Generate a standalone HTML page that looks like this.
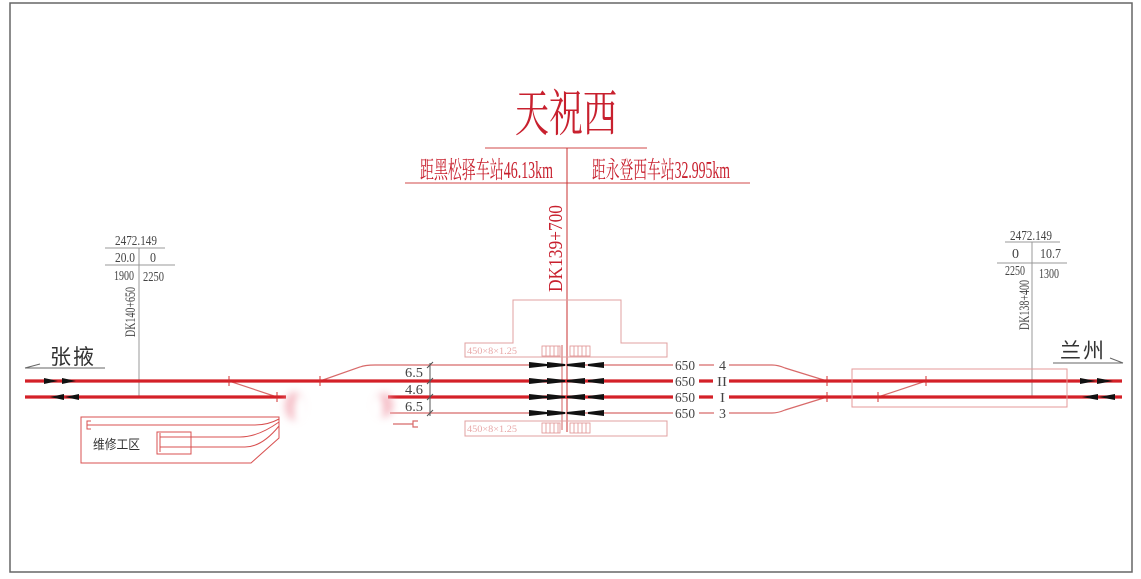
<!DOCTYPE html>
<html><head><meta charset="utf-8"><style>
html,body{margin:0;padding:0;background:#fff;}
svg{display:block;}
text{font-family:"Liberation Serif","Noto Serif CJK SC",serif;}
.cjk{font-family:"Liberation Serif","Noto Serif CJK SC",serif;}
.cjks{font-family:"Liberation Sans","Noto Sans CJK SC",sans-serif;}
</style></head><body>
<svg width="1141" height="579" viewBox="0 0 1141 579" xmlns="http://www.w3.org/2000/svg">
<defs>
<filter id="blur" x="-1" y="-1" width="3" height="3"><feGaussianBlur stdDeviation="4"/></filter>
<radialGradient id="fade"><stop offset="0" stop-color="#fff" stop-opacity="1"/><stop offset="0.55" stop-color="#fff" stop-opacity="0.9"/><stop offset="1" stop-color="#fff" stop-opacity="0"/></radialGradient>
</defs>
<rect x="0" y="0" width="1141" height="579" fill="#fff"/>
<!-- border -->
<rect x="10" y="3" width="1122" height="569" fill="none" stroke="#666" stroke-width="1.5"/>

<!-- title -->
<text x="515" y="131" font-size="50" fill="#c8202e" textLength="102" lengthAdjust="spacingAndGlyphs" class="cjk">天祝西</text>
<line x1="485" y1="148" x2="647" y2="148" stroke="#d04848" stroke-width="1"/>
<text x="420" y="178" font-size="24" fill="#c8202e" textLength="133" lengthAdjust="spacingAndGlyphs" class="cjk">距黑松驿车站46.13km</text>
<text x="592" y="178" font-size="24" fill="#c8202e" textLength="138" lengthAdjust="spacingAndGlyphs" class="cjk">距永登西车站32.995km</text>
<line x1="405" y1="183" x2="750" y2="183" stroke="#d04848" stroke-width="1"/>
<line x1="567" y1="148" x2="567" y2="432" stroke="#c83030" stroke-width="1"/>
<line x1="562" y1="345" x2="562" y2="430" stroke="#d06060" stroke-width="1"/>
<text transform="translate(562,292) rotate(-90)" font-size="20" fill="#c8202e" textLength="87" lengthAdjust="spacingAndGlyphs">DK139+700</text>

<!-- platforms -->
<path d="M513,300 H621 V343 H667 V357 H465 V343 H513 Z" fill="none" stroke="#e0a0a0" stroke-width="1"/>
<rect x="465" y="421" width="202" height="15" fill="none" stroke="#e0a0a0" stroke-width="1"/>
<text x="467" y="354" font-size="9" fill="#e8a8a8" textLength="50" lengthAdjust="spacingAndGlyphs">450×8×1.25</text>
<text x="467" y="432" font-size="9" fill="#e8a8a8" textLength="50" lengthAdjust="spacingAndGlyphs">450×8×1.25</text>
<g stroke="#e09090" stroke-width="0.8" fill="none">
<rect x="542" y="346" width="18" height="10"/><rect x="570" y="346" width="20" height="10"/>
<rect x="542" y="423" width="18" height="10"/><rect x="570" y="423" width="20" height="10"/>
<path d="M546,346V356M550,346V356M554,346V356M558,346V356M574,346V356M578,346V356M582,346V356M586,346V356"/>
<path d="M546,423V433M550,423V433M554,423V433M558,423V433M574,423V433M578,423V433M582,423V433M586,423V433"/>
</g>

<!-- left profile -->
<g fill="#444">
<text x="115" y="245" font-size="14" textLength="42" lengthAdjust="spacingAndGlyphs">2472.149</text>
<text x="115" y="262" font-size="14" textLength="20" lengthAdjust="spacingAndGlyphs">20.0</text>
<text x="150" y="262" font-size="14" textLength="6" lengthAdjust="spacingAndGlyphs">0</text>
<text x="114" y="280" font-size="14" textLength="20" lengthAdjust="spacingAndGlyphs">1900</text>
<text x="143" y="281" font-size="14" textLength="21" lengthAdjust="spacingAndGlyphs">2250</text>
<text transform="translate(135,337) rotate(-90)" font-size="15" textLength="50" lengthAdjust="spacingAndGlyphs">DK140+650</text>
</g>
<g stroke="#999" stroke-width="1">
<line x1="105" y1="248" x2="165" y2="248"/>
<line x1="105" y1="265" x2="175" y2="265"/>
<line x1="139" y1="248" x2="139" y2="397"/>
</g>

<!-- right profile -->
<g fill="#444">
<text x="1010" y="240" font-size="14" textLength="42" lengthAdjust="spacingAndGlyphs">2472.149</text>
<text x="1012" y="258" font-size="14" textLength="7" lengthAdjust="spacingAndGlyphs">0</text>
<text x="1040" y="258" font-size="14" textLength="21" lengthAdjust="spacingAndGlyphs">10.7</text>
<text x="1005" y="275" font-size="14" textLength="20" lengthAdjust="spacingAndGlyphs">2250</text>
<text x="1039" y="278" font-size="14" textLength="20" lengthAdjust="spacingAndGlyphs">1300</text>
<text transform="translate(1029,330) rotate(-90)" font-size="15" textLength="50" lengthAdjust="spacingAndGlyphs">DK138+400</text>
</g>
<g stroke="#999" stroke-width="1">
<line x1="1005" y1="242" x2="1060" y2="242"/>
<line x1="997" y1="263" x2="1067" y2="263"/>
<line x1="1032" y1="242" x2="1032" y2="397"/>
</g>

<!-- direction labels -->
<text x="50" y="364" font-size="21" fill="#333" class="cjks">张</text>
<text x="73" y="364" font-size="21" fill="#333" class="cjks">掖</text>
<path d="M25,368 H105 M25,368 L40,364" stroke="#666" stroke-width="1" fill="none"/>
<text x="1060" y="358" font-size="21" fill="#333" class="cjks">兰</text>
<text x="1083" y="358" font-size="21" fill="#333" class="cjks">州</text>
<path d="M1053,363 H1123 M1110,358 L1123,363" stroke="#666" stroke-width="1" fill="none"/>

<!-- thin tracks 4 and 3 -->
<g stroke="#d86a6a" stroke-width="1.2" fill="none">
<path d="M320,381 L360,367 Q365,365 375,365 H673"/>
<path d="M699,365 H714 M729,365 H772 Q778,365 785,368 L827,381"/>
<path d="M390,413 H673"/>
<path d="M699,413 H714 M729,413 H772 Q778,413 785,410 L827,397"/>
<path d="M229,381 L277,397"/>
<path d="M878,397 L926,381"/>
<path d="M393,424 H413 M418,421 H413 V427 H418"/>
</g>

<!-- main tracks -->
<g stroke="#d42028" stroke-width="3.2" fill="none">
<path d="M25,381 H673 M699,381 H713 M729,381 H1122"/>
<path d="M25,397 H286 M388,397 H673 M699,397 H713 M729,397 H1122"/>
</g>
<!-- switch ticks -->
<g stroke="#d03030" stroke-width="1">
<path d="M229,376V386 M277,392V402 M320,376V386 M827,376V386 M827,392V402 M878,392V402 M926,376V386"/>
</g>

<!-- right box -->
<rect x="852" y="369" width="215" height="38" fill="none" stroke="#e49a9a" stroke-width="1"/>

<!-- maintenance area -->
<g stroke="#d85050" stroke-width="1" fill="none">
<path d="M81,417 H279 V438 L251,463 H81 Z"/>
<rect x="157" y="432" width="34" height="22"/>
<path d="M87,425 H255 Q268,425 279,419"/>
<path d="M91,421 H87 V429 H91"/>
<path d="M160,437 H240 Q258,437 279,422"/>
<path d="M160,447 H245 Q262,447 279,426"/>
<path d="M160,433 V452"/>
</g>
<text x="93" y="449" font-size="13" fill="#333" textLength="47" lengthAdjust="spacingAndGlyphs" class="cjks">维修工区</text>

<!-- fades -->
<ellipse cx="294" cy="406" rx="9" ry="14" fill="#f2a8b4" opacity="0.75" filter="url(#blur)"/>
<ellipse cx="302" cy="410" rx="8" ry="16" fill="#fff" filter="url(#blur)"/>
<ellipse cx="384" cy="405" rx="9" ry="12" fill="#f2a8b4" opacity="0.75" filter="url(#blur)"/>
<ellipse cx="375" cy="408" rx="8" ry="14" fill="#fff" filter="url(#blur)"/>

<!-- direction arrows -->
<g fill="#111">
<polygon points="44,378 58,381 44,384"/>
<polygon points="62,378 76,381 62,384"/>
<polygon points="50,397 64,394 64,400"/>
<polygon points="65,397 79,394 79,400"/>
<polygon points="1080,378 1096,381 1080,384"/>
<polygon points="1097,378 1113,381 1097,384"/>
<polygon points="1082,397 1098,394 1098,400"/>
<polygon points="1099,397 1115,394 1115,400"/>
</g>

<!-- center signals -->
<g fill="#111">
<path d="M529,362 L547,364 V366 L529,368 Z M547,362 L565,364 V366 L547,368 Z M567,364 L585,362 V368 L567,366 Z M588,364 L604,362 V368 L588,366 Z"/>
<path d="M529,378 L547,380 V382 L529,384 Z M547,378 L565,380 V382 L547,384 Z M567,380 L585,378 V384 L567,382 Z M588,380 L604,378 V384 L588,382 Z"/>
<path d="M529,394 L547,396 V398 L529,400 Z M547,394 L565,396 V398 L547,400 Z M567,396 L585,394 V400 L567,398 Z M588,396 L604,394 V400 L588,398 Z"/>
<path d="M529,410 L547,412 V414 L529,416 Z M547,410 L565,412 V414 L547,416 Z M567,412 L585,410 V416 L567,414 Z M588,412 L604,410 V416 L588,414 Z"/>
</g>

<!-- dimensions -->
<g stroke="#555" stroke-width="1" fill="none">
<path d="M430,363 V416"/>
<path d="M427,368 L433,362 M427,384 L433,378 M427,400 L433,394 M427,416 L433,410"/>
</g>
<g fill="#444" font-size="14">
<text x="405" y="377" textLength="18" lengthAdjust="spacingAndGlyphs">6.5</text>
<text x="405" y="394" textLength="18" lengthAdjust="spacingAndGlyphs">4.6</text>
<text x="405" y="411" textLength="18" lengthAdjust="spacingAndGlyphs">6.5</text>
</g>

<!-- track labels -->
<g fill="#444" font-size="14">
<text x="675" y="370" textLength="20" lengthAdjust="spacingAndGlyphs">650</text>
<text x="675" y="386" textLength="20" lengthAdjust="spacingAndGlyphs">650</text>
<text x="675" y="402" textLength="20" lengthAdjust="spacingAndGlyphs">650</text>
<text x="675" y="418" textLength="20" lengthAdjust="spacingAndGlyphs">650</text>
<text x="719" y="370" textLength="7" lengthAdjust="spacingAndGlyphs">4</text>
<text x="717" y="386" textLength="10" lengthAdjust="spacingAndGlyphs">II</text>
<text x="720" y="402" textLength="5" lengthAdjust="spacingAndGlyphs">I</text>
<text x="719" y="418" textLength="7" lengthAdjust="spacingAndGlyphs">3</text>
</g>
</svg>
</body></html>
